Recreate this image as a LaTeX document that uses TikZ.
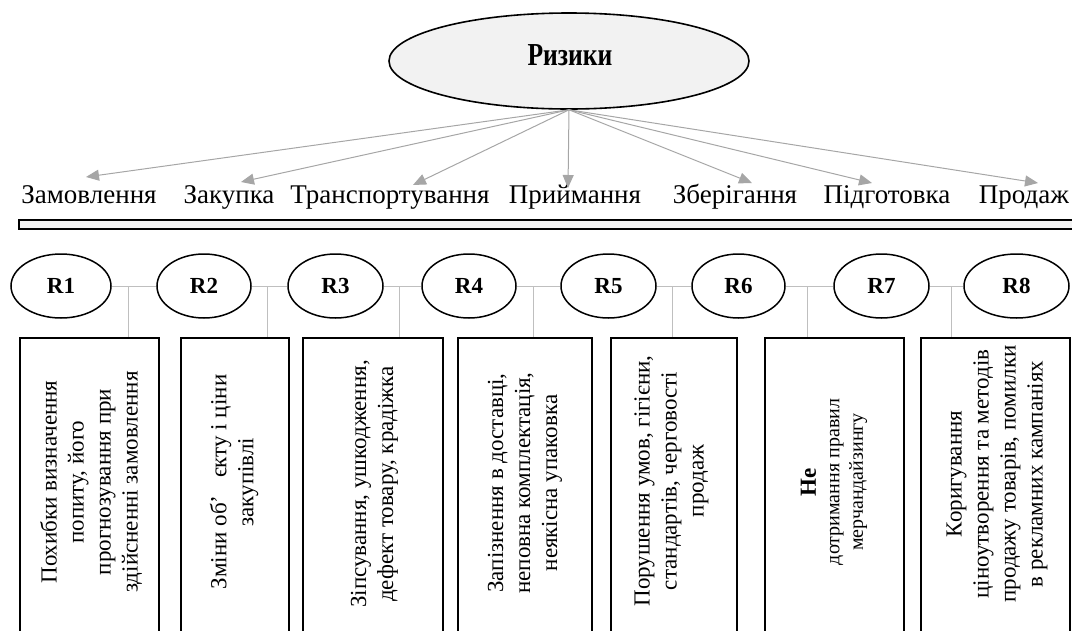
\documentclass[tikz,border=0pt]{standalone}
\usepackage{fontspec}
\setmainfont{Liberation Serif}
\usetikzlibrary{shapes.geometric,arrows.meta}
\definecolor{fillgray}{HTML}{F2F2F2}
\definecolor{arrgray}{HTML}{A6A6A6}
\definecolor{lngray}{HTML}{BFBFBF}
\begin{document}
\begin{tikzpicture}[x=1pt,y=-1pt,
  mainell/.style={ellipse, draw, line width=1.6pt, fill=fillgray, minimum width=360pt, minimum height=96pt, inner sep=0pt},
  rnode/.style={ellipse, draw, line width=1.5pt, fill=white, minimum height=64pt, inner sep=0pt, font=\fontsize{23}{27}\selectfont\bfseries},
  stage/.style={font=\fontsize{27}{30}\selectfont, inner sep=0pt, anchor=base},
  arr/.style={draw=arrgray, line width=1pt, -{Triangle[length=13pt,width=11pt]}},
  conn/.style={draw=lngray, line width=1pt},
  rbox/.style={draw, line width=1.6pt, fill=white, anchor=north west, minimum height=330pt, inner sep=0pt},
  btext/.style={rotate=90, align=center, font=\fontsize{23}{27}\selectfont, inner sep=0pt},
  bar/.style={draw, line width=1.6pt, fill=fillgray}
]
\useasboundingbox (0,0) rectangle (1072,630);
\clip (0,0) rectangle (1072,630);

% top ellipse
\node[mainell] (riz) at (569,61) {};
\node[font=\fontsize{32}{34}\selectfont\bfseries, inner sep=0pt] (riztext) at (570,55) {\scalebox{0.8}[1]{Ризики}};

% stage labels
\node[stage] (s1) at (89,203) {Замовлення};
\node[stage] (s2) at (229,203) {Закупка};
\node[stage] (s3) at (390,203) {Транспортування};
\node[stage] (s4) at (575,203) {Приймання};
\node[stage] (s5) at (735,203) {Зберігання};
\node[stage] (s6) at (887,203) {Підготовка};
\node[stage] (s7) at (1024,203) {Продаж};

% arrow tips
\coordinate (t1) at (86,177);
\coordinate (t2) at (241,182);
\coordinate (t3) at (413,185);
\coordinate (t4) at (568,188);
\coordinate (t5) at (752,183);
\coordinate (t6) at (872,183);
\coordinate (t7) at (1038,183);
\foreach \i in {1,...,7} {\draw[arr] (riz.south) -- (t\i);}

% bar
\draw[bar] (19,220) rectangle (1090,229);

% R ellipses
\node[rnode, minimum width=100pt] (R1) at (61,286) {R1};
\node[rnode, minimum width=94pt] (R2) at (204,286) {R2};
\node[rnode, minimum width=95pt] (R3) at (335.5,286) {R3};
\node[rnode, minimum width=94pt] (R4) at (469,286) {R4};
\node[rnode, minimum width=95pt] (R5) at (608.5,286) {R5};
\node[rnode, minimum width=93pt] (R6) at (738.5,286) {R6};
\node[rnode, minimum width=95pt] (R7) at (881.5,286) {R7};
\node[rnode, minimum width=105pt] (R8) at (1016.5,286) {R8};

% boxes
\node[rbox, minimum width=139pt] (b1) at (19,337) {};
\node[rbox, minimum width=108pt] (b2) at (180,337) {};
\node[rbox, minimum width=140pt] (b3) at (302,337) {};
\node[rbox, minimum width=134pt] (b4) at (457,337) {};
\node[rbox, minimum width=126pt] (b5) at (610,337) {};
\node[rbox, minimum width=139pt] (b6) at (764,337) {};
\node[rbox, minimum width=149pt] (b7) at (920,337) {};

% connectors
\coordinate (j1) at (128,286);
\coordinate (j2) at (267,286);
\coordinate (j3) at (399,286);
\coordinate (j4) at (533,286);
\coordinate (j5) at (672,286);
\coordinate (j6) at (807,286);
\coordinate (j7) at (951,286);
\draw[conn] (R1.east) -- (R2.west);
\draw[conn] (R2.east) -- (R3.west);
\draw[conn] (R3.east) -- (R4.west);
\draw[conn] (R4.east) -- (R5.west);
\draw[conn] (R5.east) -- (R6.west);
\draw[conn] (R6.east) -- (R7.west);
\draw[conn] (R7.east) -- (R8.west);
\draw[conn] (j1) -- (j1 |- b1.north);
\draw[conn] (j2) -- (j2 |- b2.north);
\draw[conn] (j3) -- (j3 |- b3.north);
\draw[conn] (j4) -- (j4 |- b4.north);
\draw[conn] (j5) -- (j5 |- b5.north);
\draw[conn] (j6) -- (j6 |- b6.north);
\draw[conn] (j7) -- (j7 |- b7.north);

% box texts
\node[btext] (x1) at (91,482) {Похибки визначення\\попиту, його\\прогнозування при\\здійсненні замовлення};
\node[btext] (x2) at (234,482) {Зміни об’\hspace{12pt} єкту і ціни\\закупівлі};
\node[btext] (x3) at (374.5,484) {Зіпсування, ушкодження,\\дефект товару, крадіжка};
\node[btext] (x4) at (525,483) {Запізнення в доставці,\\неповна комплектація,\\неякісна упаковка};
\node[btext] (x5) at (671.5,481) {Порушення умов, гігієни,\\стандартів, черговості\\продаж};
\node[btext, font=\fontsize{20}{23.5}\selectfont] (x6) at (834,482) {{\fontsize{23}{23.5}\selectfont\bfseries Не}\\дотримання правил\\мерчандайзингу};
\node[btext] (x7) at (997,474) {Коригування\\ціноутворення та методів\\продажу товарів, помилки\\в рекламних кампаніях};
\end{tikzpicture}
\end{document}
